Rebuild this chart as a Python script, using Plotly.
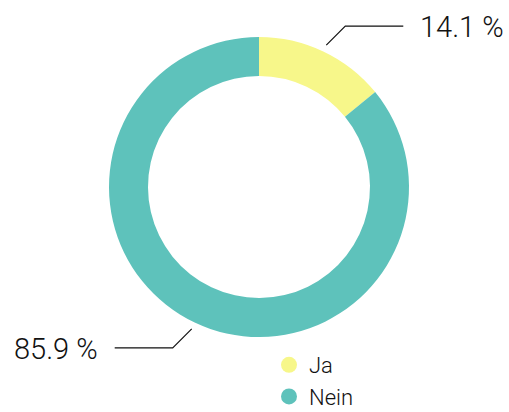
import math
import plotly.graph_objects as go

labels = ["Ja", "Nein"]
values = [14.1, 85.9]
text_labels = ["14.1 %", "85.9 %"]
colors = ["#F7F78A", "#5EC2BB"]

W, H = 509, 412
cx, cy, R = 259, 187, 150
HOLE = 0.74
FONT = "Roboto"

fig = go.Figure()
fig.add_trace(go.Pie(
    labels=labels, values=values, hole=HOLE, sort=False, direction="clockwise",
    rotation=0, marker=dict(colors=colors, line=dict(width=0)),
    textinfo="none", hoverinfo="label+percent", showlegend=False,
    domain=dict(x=[(cx - R) / W, (cx + R) / W], y=[(H - cy - R) / H, (H - cy + R) / H]),
))

# legend entries with circular markers
for lab, col in zip(labels, colors):
    fig.add_trace(go.Scatter(x=[None], y=[None], mode="markers", name=lab,
                             marker=dict(symbol="circle", size=18, color=col)))

def px(x):
    return x / W

def py(y):
    return 1 - y / H

total = sum(values)
cum = 0
shapes, annotations = [], []
for v, t in zip(values, text_labels):
    mid = (cum + v / 2) / total * 2 * math.pi
    cum += v
    dx, dy = math.sin(mid), -math.cos(mid)
    sx, sy = cx + (R + 7) * dx, cy + (R + 7) * dy
    hx = 1 if dx >= 0 else -1
    vy = 1 if dy >= 0 else -1
    ex, ey = sx + 19 * hx, sy + 19 * vy
    fx = ex + 58 * hx
    path = f"M {px(sx)} {py(sy)} L {px(ex)} {py(ey)} L {px(fx)} {py(ey)}"
    shapes.append(dict(type="path", path=path, xref="paper", yref="paper",
                       line=dict(color="#111111", width=1.2)))
    annotations.append(dict(x=px(fx + 15 * hx), y=py(ey + 1), xref="paper", yref="paper",
                            text=t, showarrow=False,
                            xanchor="left" if hx > 0 else "right", yanchor="middle",
                            font=dict(size=29, color="#111111", family=FONT, weight=300)))

fig.update_layout(
    width=W, height=H, margin=dict(l=0, r=0, t=0, b=0, autoexpand=False),
    paper_bgcolor="white", plot_bgcolor="white",
    xaxis=dict(visible=False), yaxis=dict(visible=False),
    shapes=shapes, annotations=annotations,
    legend=dict(x=269 / W, y=-6 / H, xanchor="left", yanchor="bottom",
                font=dict(size=22, color="#111111", family=FONT, weight=300),
                bgcolor="rgba(0,0,0,0)", tracegroupgap=0),
    font=dict(family=FONT),
)

fig.write_html("out.html", config={"displayModeBar": False},
               post_script="document.body.style.margin='0';document.body.style.overflow='hidden';")
